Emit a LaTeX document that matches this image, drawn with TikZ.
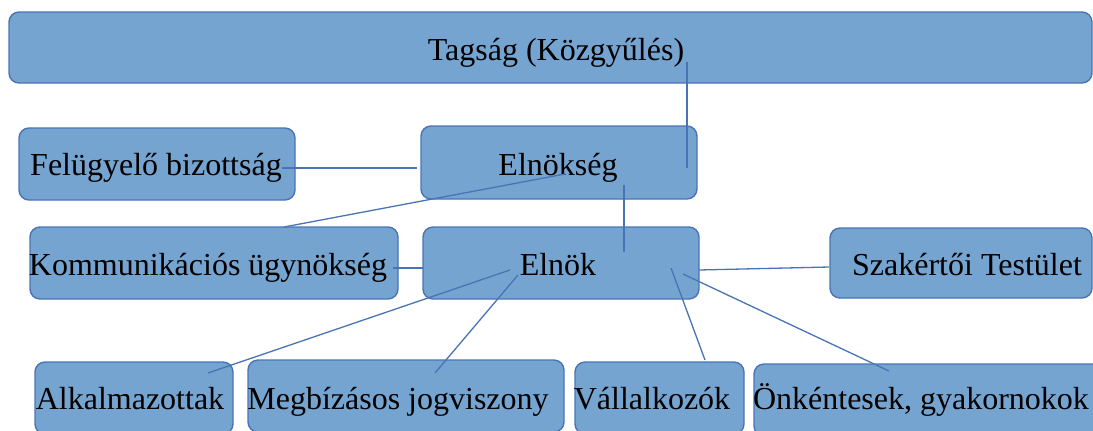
\documentclass[tikz,border=0pt]{standalone}
\usepackage{fontspec}
\setmainfont{Liberation Serif}
\definecolor{boxfill}{RGB}{118,164,208}
\definecolor{boxline}{RGB}{72,116,182}
\begin{document}
\begin{tikzpicture}[x=0.5pt,y=-0.5pt,
  box/.style={draw=boxline,fill=boxfill,line width=0.7pt,rounded corners=5pt,inner sep=0pt,outer sep=0pt},
  txt/.style={anchor=base,inner sep=0pt,font=\fontsize{16pt}{19pt}\selectfont,text=black},
  conn/.style={draw=boxline,line width=0.65pt}]
\useasboundingbox (0,0) rectangle (1093,430);
\clip (0,0) rectangle (1093,430);
% boxes
\node[box,minimum width=541.5pt,minimum height=35.5pt] (tagsag) at (550.5,47.5) {};
\node[box,minimum width=138pt,minimum height=36pt] (felugyelo) at (157,164) {};
\node[box,minimum width=138pt,minimum height=36.5pt] (elnokseg) at (559,162.5) {};
\node[box,minimum width=184pt,minimum height=36pt] (komm) at (214,263) {};
\node[box,minimum width=138pt,minimum height=36pt] (elnok) at (561,263) {};
\node[box,minimum width=131pt,minimum height=35pt] (szak) at (961,263) {};
\node[box,minimum width=99pt,minimum height=36pt] (alk) at (134,398) {};
\node[box,minimum width=158pt,minimum height=36pt] (megb) at (406,396) {};
\node[box,minimum width=84.5pt,minimum height=36pt] (vall) at (659.5,398) {};
\node[box,minimum width=178pt,minimum height=36pt] (onk) at (932,400) {};
% texts
\node[txt] (tTagsag) at (556,60) {Tagság (Közgyűlés)};
\node[txt] (tFel) at (156,175) {Felügyelő bizottság};
\node[txt] (tElnokseg) at (558,175) {Elnökség};
\node[txt] (tKomm) at (208,275) {Kommunikációs ügynökség};
\node[txt] (tElnok) at (558,275) {Elnök};
\node[txt] (tSzak) at (967,275) {Szakértői Testület};
\node[txt] (tAlk) at (130,409) {Alkalmazottak};
\node[txt] (tMegb) at (398,409) {Megbízásos jogviszony};
\node[txt] (tVall) at (652,409) {Vállalkozók};
\node[txt] (tOnk) at (921,409) {Önkéntesek, gyakornokok};
% connector end points
\coordinate (a1) at (687,62);   \coordinate (a2) at (687,168);
\coordinate (b1) at (282,168);  \coordinate (b2) at (417,168);
\coordinate (c1) at (284,227);  \coordinate (c2) at (565,174);
\coordinate (d1) at (624,185);  \coordinate (d2) at (624,252);
\coordinate (e1) at (393,268);  \coordinate (e2) at (423,268);
\coordinate (f1) at (699,270);  \coordinate (f2) at (829,267);
\coordinate (g1) at (510,270);  \coordinate (g2) at (208,373);
\coordinate (h1) at (518,275);  \coordinate (h2) at (435,373);
\coordinate (i1) at (671,268);  \coordinate (i2) at (705,360);
\coordinate (j1) at (683,274);  \coordinate (j2) at (889,371);
% connectors
\draw[conn] (a1) -- (a2);
\draw[conn] (b1) -- (b2);
\draw[conn] (c1) -- (c2);
\draw[conn] (d1) -- (d2);
\draw[conn] (e1) -- (e2);
\draw[conn] (f1) -- (f2);
\draw[conn] (g1) -- (g2);
\draw[conn] (h1) -- (h2);
\draw[conn] (i1) -- (i2);
\draw[conn] (j1) -- (j2);
\end{tikzpicture}
\end{document}
